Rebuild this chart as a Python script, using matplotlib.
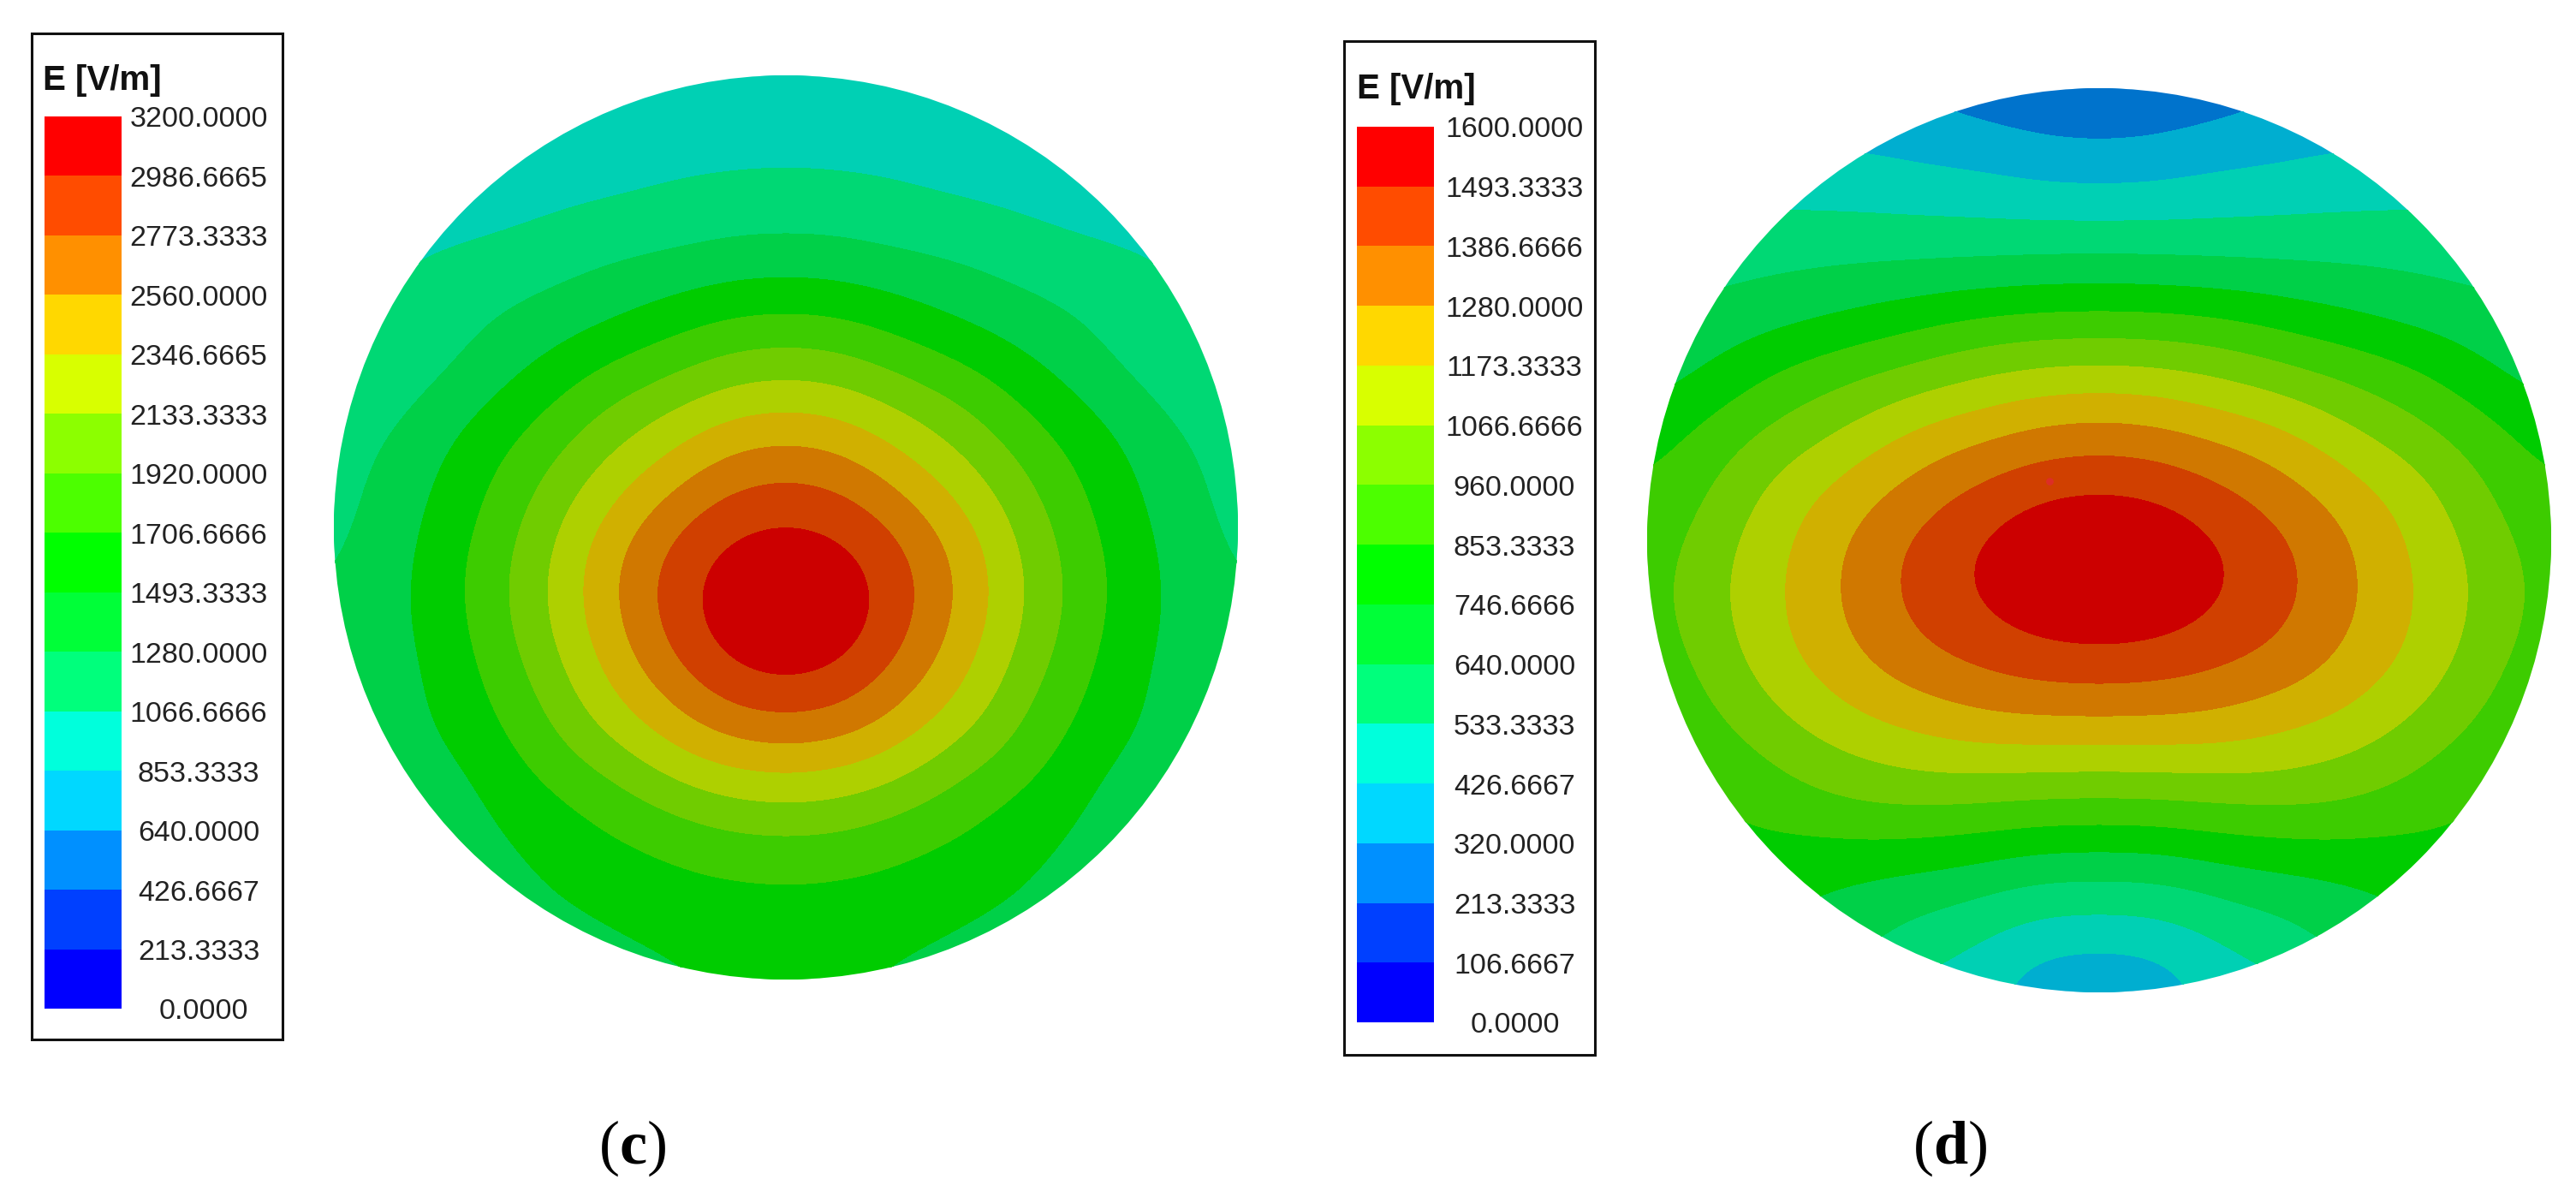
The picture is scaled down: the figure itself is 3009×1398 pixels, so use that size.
import numpy as np
import matplotlib
matplotlib.use("Agg")
import matplotlib.pyplot as plt
import matplotlib.tri as mtri
from matplotlib.patches import Circle, Rectangle

plt.rcParams['font.family'] = ['Liberation Sans']
plt.rcParams['mathtext.fontset'] = 'custom'
plt.rcParams['mathtext.bf'] = 'Liberation Serif:bold'
plt.rcParams['mathtext.rm'] = 'Liberation Serif'

LABELS_C = ["3200.0000","2986.6665","2773.3333","2560.0000","2346.6665","2133.3333","1920.0000",
            "1706.6666","1493.3333","1280.0000","1066.6666","853.3333","640.0000","426.6667","213.3333","0.0000"]
LABELS_D = ["1600.0000","1493.3333","1386.6666","1280.0000","1173.3333","1066.6666","960.0000",
            "853.3333","746.6666","640.0000","533.3333","426.6667","320.0000","213.3333","106.6667","0.0000"]
LEGEND_COLORS = ["#0000ff","#0040ff","#0090ff","#00d8ff","#00ffdc","#00ff7c","#00ff38","#00ff00",
                 "#4cff00","#8cff00","#d8ff00","#ffd800","#ff9000","#ff4c00","#ff0000"]
DISC_COLORS = ["#0000cc","#0033cc","#0073cc","#00aed0","#00d0b4","#00d874","#00d048","#00cc00",
               "#3dcc00","#70cc00","#aed000","#d0b000","#d07800","#d04000","#cc0000"]

# field values (V/m) read on a grid over the disc: rows top to bottom, columns centre to right edge
FIELD_C = [
    [900,897,890,880,870,865,860,860,860],
    [990,982,965,935,905,885,870,860,860],
    [1113,1105,1081,1040,1004,955,920,890,870],
    [1321,1305,1256,1219,1163,1105,1060,1010,960],
    [1628,1600,1520,1420,1330,1250,1170,1085,1010],
    [1988,1945,1818,1692,1545,1397,1243,1130,1040],
    [2367,2314,2156,1978,1771,1578,1404,1238,1130],
    [2723,2656,2455,2227,1974,1733,1521,1340,1170],
    [3005,2937,2733,2450,2133,1834,1587,1390,1212],
    [3180,3102,2867,2560,2208,1892,1628,1423,1262],
    [3150,3065,2812,2499,2165,1852,1601,1415,1290],
    [2888,2816,2600,2342,2032,1762,1554,1393,1300],
    [2495,2444,2293,2068,1860,1647,1476,1370,1300],
    [2077,2040,1930,1795,1661,1528,1385,1300,1260],
    [1756,1737,1690,1625,1540,1445,1375,1320,1280],
    [1610,1600,1565,1505,1445,1400,1350,1300,1260],
    [1515,1498,1447,1400,1370,1340,1300,1260,1230],
]
FIELD_D = [
    [225,232,254,290,330,370,400,420,430],
    [326,336,365,387,410,420,430,440,450],
    [471,475,489,498,508,514,520,525,530],
    [649,646,638,632,627,620,607,590,575],
    [863,857,840,807,770,732,700,670,640],
    [1088,1078,1046,997,944,891,826,750,690],
    [1300,1284,1237,1186,1110,1027,951,864,790],
    [1472,1454,1398,1326,1241,1151,1052,941,850],
    [1590,1567,1500,1421,1326,1220,1109,997,891],
    [1592,1571,1509,1433,1344,1236,1128,1017,910],
    [1476,1463,1424,1374,1297,1206,1104,989,890],
    [1307,1301,1284,1243,1193,1122,1032,935,860],
    [1086,1088,1092,1085,1054,1006,936,880,830],
    [858,864,884,899,904,882,858,830,800],
    [640,646,684,718,741,764,790,800,790],
    [469,480,535,587,653,710,740,770,770],
    [324,348,455,490,550,640,700,740,750],
]
TOP_C = 3200.0
TOP_D = 1600.0
SPOT_D = (-0.11, -0.13)

W, H = 3009, 1398
fig = plt.figure(figsize=(W/100, H/100), dpi=100, facecolor='white')

def pix_axes(x0, y0, x1, y1):
    return fig.add_axes([x0/W, 1-y1/H, (x1-x0)/W, (y1-y0)/H])

def soften(a, width, passes):
    k = np.ones(width) / width
    p = width // 2
    for _ in range(passes):
        for axis in (0, 1):
            a = np.apply_along_axis(
                lambda s: np.convolve(np.pad(s, p, mode='edge'), k, mode='valid'), axis, a)
    return a

def disc(cx, cy, r, field, top):
    ax = pix_axes(cx-r, cy-r, cx+r, cy+r)
    half = np.array(field, float)
    z = np.hstack([half[:, :0:-1], half])
    g = np.linspace(-1, 1, z.shape[0])
    X, Y = np.meshgrid(g, g)
    tri = mtri.Triangulation(X.ravel(), Y.ravel())
    interp = mtri.CubicTriInterpolator(tri, z.ravel(), kind='min_E')
    fine = np.linspace(-1, 1, 321)
    FX, FY = np.meshgrid(fine, fine)
    zf = np.ma.filled(interp(FX, FY), np.nan)
    zf = np.nan_to_num(zf, nan=float(np.nanmean(zf)))
    zf = soften(zf, 21, 2)
    levels = np.arange(16) * top / 15
    cs = ax.contourf(FX, FY, np.clip(zf, 1, top - 1), levels=levels, colors=DISC_COLORS)
    clip = Circle((0, 0), 1, transform=ax.transData)
    cs.set_clip_path(clip)
    cs.set_edgecolor('face')
    cs.set_linewidth(0.4)
    ax.set_xlim(-1, 1)
    ax.set_ylim(1, -1)
    ax.axis('off')
    return ax

def legend(bx0, by0, bx1, by1, cx0, cx1, cy0, cy1, labels, label_x, title_x, title_y, zero_dx):
    ax = fig.add_axes([0, 0, 1, 1], zorder=5)
    ax.set_xlim(0, W)
    ax.set_ylim(H, 0)
    ax.axis('off')
    ax.patch.set_alpha(0)
    ax.add_patch(Rectangle((bx0, by0), bx1-bx0, by1-by0, fc='white', ec='#111111', lw=2.2))
    edges = np.linspace(cy1, cy0, 16)
    for i, col in enumerate(LEGEND_COLORS):
        ax.add_patch(Rectangle((cx0, edges[i+1]), cx1-cx0, edges[i]-edges[i+1], fc=col, ec='none'))
    for lab, y in zip(labels, edges[::-1]):
        is_zero = lab == "0.0000"
        ax.text(label_x + (zero_dx if is_zero else 0), y + (3 if is_zero else 4), lab,
                ha='center', va='center', fontsize=24.5, color='#222222')
    ax.text(title_x, title_y, "E [V/m]", ha='left', va='center', fontsize=29, fontweight='bold', color='#111111')

disc(918, 616, 528, FIELD_C, TOP_C)
axd = disc(2452, 631, 528, FIELD_D, TOP_D)
axd.scatter([SPOT_D[0]], [SPOT_D[1]], s=40, color='#e02a30', alpha=0.8, linewidths=0, zorder=5)

legend(37, 39, 330, 1214, 52, 142, 136, 1178, LABELS_C, 232, 50, 94, 6)
legend(1570, 48, 1863, 1232, 1585, 1675, 148, 1194, LABELS_D, 1769, 1585, 104, 1)

fig.text(739/W, 1-1341/H, r"($\mathbf{c}$)", ha='center', va='center', fontsize=52, family='Liberation Serif')
fig.text(2278/W, 1-1341/H, r"($\mathbf{d}$)", ha='center', va='center', fontsize=52, family='Liberation Serif')

fig.savefig("out.png", dpi=100, facecolor='white')
